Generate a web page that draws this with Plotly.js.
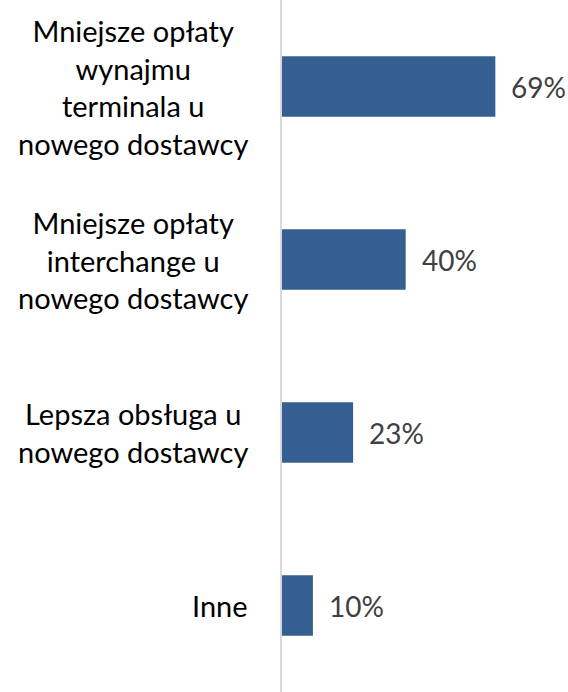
<!DOCTYPE html>
<html><head><meta charset="utf-8">
<script src="https://cdn.plot.ly/plotly-3.0.1.min.js"></script>
<style>html,body{margin:0;padding:0;background:#fff}</style>
</head><body>
<div id="chart" style="width:568px;height:692px"></div>
<script>
const categories = [
  "Mniejsze opłaty<br>wynajmu<br>terminala u<br>nowego dostawcy",
  "Mniejsze opłaty<br>interchange u<br>nowego dostawcy",
  "Lepsza obsługa u<br>nowego dostawcy",
  "Inne"
];
const values = [69, 40, 23, 10];
const valueLabels = ["69%", "40%", "23%", "10%"];

const FONT = "Lato, 'DejaVu Sans', sans-serif";
const annotations = [];
categories.forEach((c, i) => {
  annotations.push({
    text: c, xref: "paper", x: 0, yref: "y", y: i,
    xanchor: "right", yanchor: "middle", align: "center",
    xshift: -32, showarrow: false,
    font: {family: FONT, size: 29, color: "#000000"}
  });
  annotations.push({
    text: valueLabels[i], xref: "x", x: values[i], yref: "y", y: i,
    xanchor: "left", yanchor: "middle", xshift: 14, showarrow: false,
    font: {family: FONT, size: 28, color: "#404040"}
  });
});

Plotly.newPlot("chart", [{
  type: "bar", orientation: "h",
  y: [0, 1, 2, 3], x: values,
  width: 0.35,
  marker: {color: "#365F91"},
  hoverinfo: "none"
}], {
  width: 568, height: 692,
  margin: {l: 282, r: 0, t: 0, b: 0},
  paper_bgcolor: "#fff", plot_bgcolor: "#fff",
  showlegend: false,
  xaxis: {range: [0, 92.5], showgrid: false, zeroline: false, showticklabels: false, showline: false, fixedrange: true},
  yaxis: {range: [3.5, -0.5], showgrid: false, zeroline: false, showticklabels: false,
          showline: true, linecolor: "#D9D9D9", linewidth: 2, fixedrange: true},
  annotations: annotations
}, {staticPlot: true});
</script>
</body></html>
